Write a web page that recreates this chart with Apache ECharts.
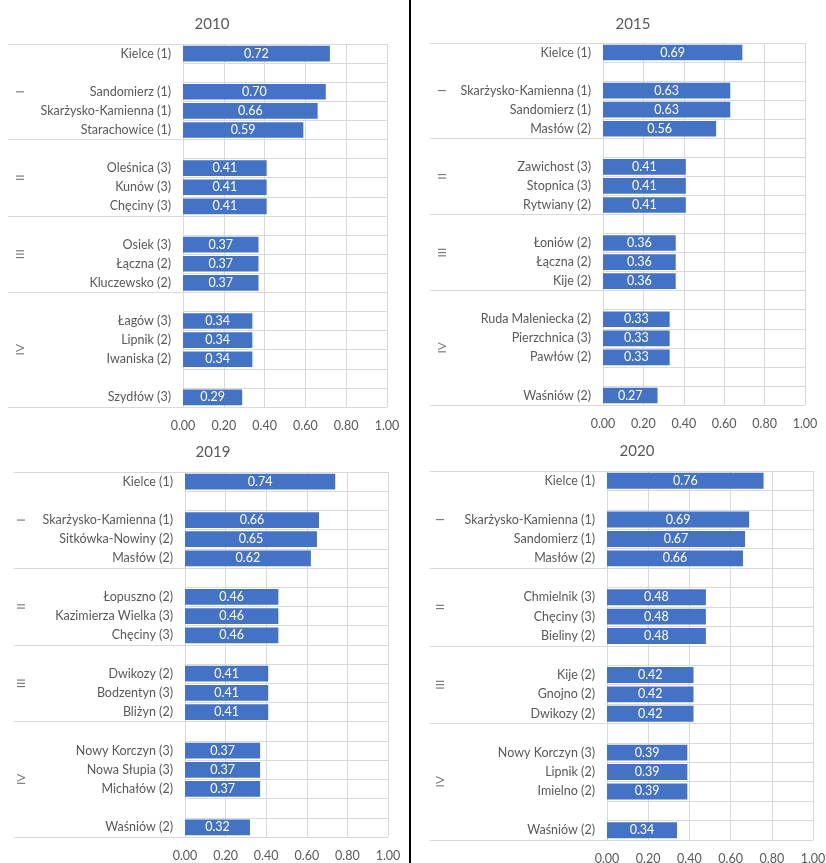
<!DOCTYPE html>
<html><head><meta charset="utf-8">
<script src="https://cdn.jsdelivr.net/npm/echarts@6/dist/echarts.min.js"></script>
<style>html,body{margin:0;padding:0;background:#fff}#c{width:826px;height:863px}</style>
</head><body><div id="c"></div>
<script>
const years = ['2010', '2015', '2019', '2020'];
const groupLabels = ['I', 'II', 'III', 'IV'];
const xTicks = [0, 0.2, 0.4, 0.6, 0.8, 1.0];

const names2010 = ['Kielce (1)', 'Sandomierz (1)', 'Skarżysko-Kamienna (1)', 'Starachowice (1)',
  'Oleśnica (3)', 'Kunów (3)', 'Chęciny (3)', 'Osiek (3)', 'Łączna (2)', 'Kluczewsko (2)',
  'Łagów (3)', 'Lipnik (2)', 'Iwaniska (2)', 'Szydłów (3)'];
const values2010 = [0.72, 0.70, 0.66, 0.59, 0.41, 0.41, 0.41, 0.37, 0.37, 0.37, 0.34, 0.34, 0.34, 0.29];

const names2015 = ['Kielce (1)', 'Skarżysko-Kamienna (1)', 'Sandomierz (1)', 'Masłów (2)',
  'Zawichost (3)', 'Stopnica (3)', 'Rytwiany (2)', 'Łoniów (2)', 'Łączna (2)', 'Kije (2)',
  'Ruda Maleniecka (2)', 'Pierzchnica (3)', 'Pawłów (2)', 'Waśniów (2)'];
const values2015 = [0.69, 0.63, 0.63, 0.56, 0.41, 0.41, 0.41, 0.36, 0.36, 0.36, 0.33, 0.33, 0.33, 0.27];

const names2019 = ['Kielce (1)', 'Skarżysko-Kamienna (1)', 'Sitkówka-Nowiny (2)', 'Masłów (2)',
  'Łopuszno (2)', 'Kazimierza Wielka (3)', 'Chęciny (3)', 'Dwikozy (2)', 'Bodzentyn (3)', 'Bliżyn (2)',
  'Nowy Korczyn (3)', 'Nowa Słupia (3)', 'Michałów (2)', 'Waśniów (2)'];
const values2019 = [0.74, 0.66, 0.65, 0.62, 0.46, 0.46, 0.46, 0.41, 0.41, 0.41, 0.37, 0.37, 0.37, 0.32];

const names2020 = ['Kielce (1)', 'Skarżysko-Kamienna (1)', 'Sandomierz (1)', 'Masłów (2)',
  'Chmielnik (3)', 'Chęciny (3)', 'Bieliny (2)', 'Kije (2)', 'Gnojno (2)', 'Dwikozy (2)',
  'Nowy Korczyn (3)', 'Lipnik (2)', 'Imielno (2)', 'Waśniów (2)'];
const values2020 = [0.76, 0.69, 0.67, 0.66, 0.48, 0.48, 0.48, 0.42, 0.42, 0.42, 0.39, 0.39, 0.39, 0.34];

const panelNames = [names2010, names2015, names2019, names2020];
const panelValues = [values2010, values2015, values2019, values2020];

// layout (pixels) - styles only
const layout = [
  { plotL: 183, plotR: 387, top: 44, bottom: 407, sepL: 8, gx: 12, tx: 207, ty: 12 },
  { plotL: 603, plotR: 805, top: 43, bottom: 405, sepL: 430, gx: 12, tx: 628, ty: 12 },
  { plotL: 185, plotR: 388, top: 472, bottom: 837, sepL: 14, gx: 7, tx: 208, ty: 440 },
  { plotL: 607, plotR: 813, top: 471, bottom: 840, sepL: 430, gx: 10, tx: 632, ty: 439 }
];

const FONT = 'Lato';
const TXT = '#595959';
const GRIDC = '#d9d9d9';
const BAR = '#4472C4';

function buildRows(names, values) {
  const cats = [], vals = [], bounds = [0];
  let k = 0, gap = 0;
  const push = (n, v) => { cats.push(n); vals.push(v); };
  const gapRow = () => push('__gap' + (gap++), '-');
  push(names[k], values[k]); k++;
  for (let g = 0; g < 4; g++) {
    if (g > 0) bounds.push(cats.length);
    gapRow();
    for (let j = 0; j < 3; j++) { push(names[k], values[k]); k++; }
  }
  gapRow();
  push(names[k], values[k]);
  bounds.push(cats.length);
  return { cats, vals, bounds };
}

const grids = [], xAxes = [], yAxes = [], series = [], titles = [];
years.forEach((yr, p) => {
  const L = layout[p];
  const rows = buildRows(panelNames[p], panelValues[p]);
  const h = L.bottom - L.top;
  grids.push({ left: L.plotL, top: L.top, width: L.plotR - L.plotL, height: h, outerBoundsMode: 'none', containLabel: false });
  grids.push({ left: L.sepL, top: L.top, width: L.plotL - L.sepL, height: h, outerBoundsMode: 'none', containLabel: false });
  const gi = p * 2;
  xAxes.push({
    gridIndex: gi, type: 'value', min: xTicks[0], max: xTicks[xTicks.length - 1], interval: xTicks[1] - xTicks[0],
    axisLine: { show: false }, axisTick: { show: false },
    splitLine: { show: true, lineStyle: { color: GRIDC, width: 1 } },
    axisLabel: { color: TXT, fontFamily: FONT, fontSize: 12.5, margin: 12, formatter: v => v.toFixed(2) }
  });
  xAxes.push({ gridIndex: gi + 1, type: 'value', min: 0, max: L.plotL - L.sepL, show: false });
  yAxes.push({
    gridIndex: gi, type: 'category', inverse: true, data: rows.cats,
    axisLine: { show: false }, axisTick: { show: false },
    splitLine: { show: true, interval: 0, lineStyle: { color: GRIDC, width: 1 } },
    axisLabel: { color: TXT, fontFamily: FONT, fontSize: 12.5, margin: 12, interval: 0,
      formatter: v => v.startsWith('__gap') ? '' : v }
  });
  yAxes.push({ gridIndex: gi + 1, type: 'value', inverse: true, min: 0, max: rows.cats.length, show: false });
  series.push({
    type: 'bar', xAxisIndex: gi, yAxisIndex: gi, data: rows.vals, barCategoryGap: '18%',
    itemStyle: { color: BAR }, silent: true,
    label: { show: true, position: 'inside', color: '#fff', fontFamily: FONT, fontSize: 12.5,
      formatter: d => d.value.toFixed(2) }
  });
  const centers = groupLabels.map((g, i) => ({ value: [L.gx, (rows.bounds[i] + rows.bounds[i + 1]) / 2], name: g }));
  series.push({
    type: 'scatter', xAxisIndex: gi + 1, yAxisIndex: gi + 1, symbolSize: 0, silent: true,
    data: centers,
    label: { show: true, position: 'inside', rotate: 90, color: TXT, fontFamily: FONT, fontSize: 12, formatter: d => d.name },
    markLine: {
      silent: true, symbol: ['none', 'none'], label: { show: false },
      lineStyle: { color: GRIDC, width: 1, type: 'solid' },
      data: rows.bounds.map(b => ({ yAxis: b }))
    }
  });
  titles.push({ text: yr, left: L.tx, top: L.ty, textAlign: 'center',
    textStyle: { color: TXT, fontFamily: FONT, fontSize: 15, fontWeight: 'normal' } });
});

const chart = echarts.init(document.getElementById('c'), null, { renderer: 'canvas' });
chart.setOption({
  animation: false,
  backgroundColor: '#fff',
  title: titles,
  grid: grids, xAxis: xAxes, yAxis: yAxes, series: series,
  graphic: [{ type: 'line', shape: { x1: 410, y1: 0, x2: 410, y2: 863 }, style: { stroke: '#000', lineWidth: 2 }, silent: true }]
});
</script></body></html>
